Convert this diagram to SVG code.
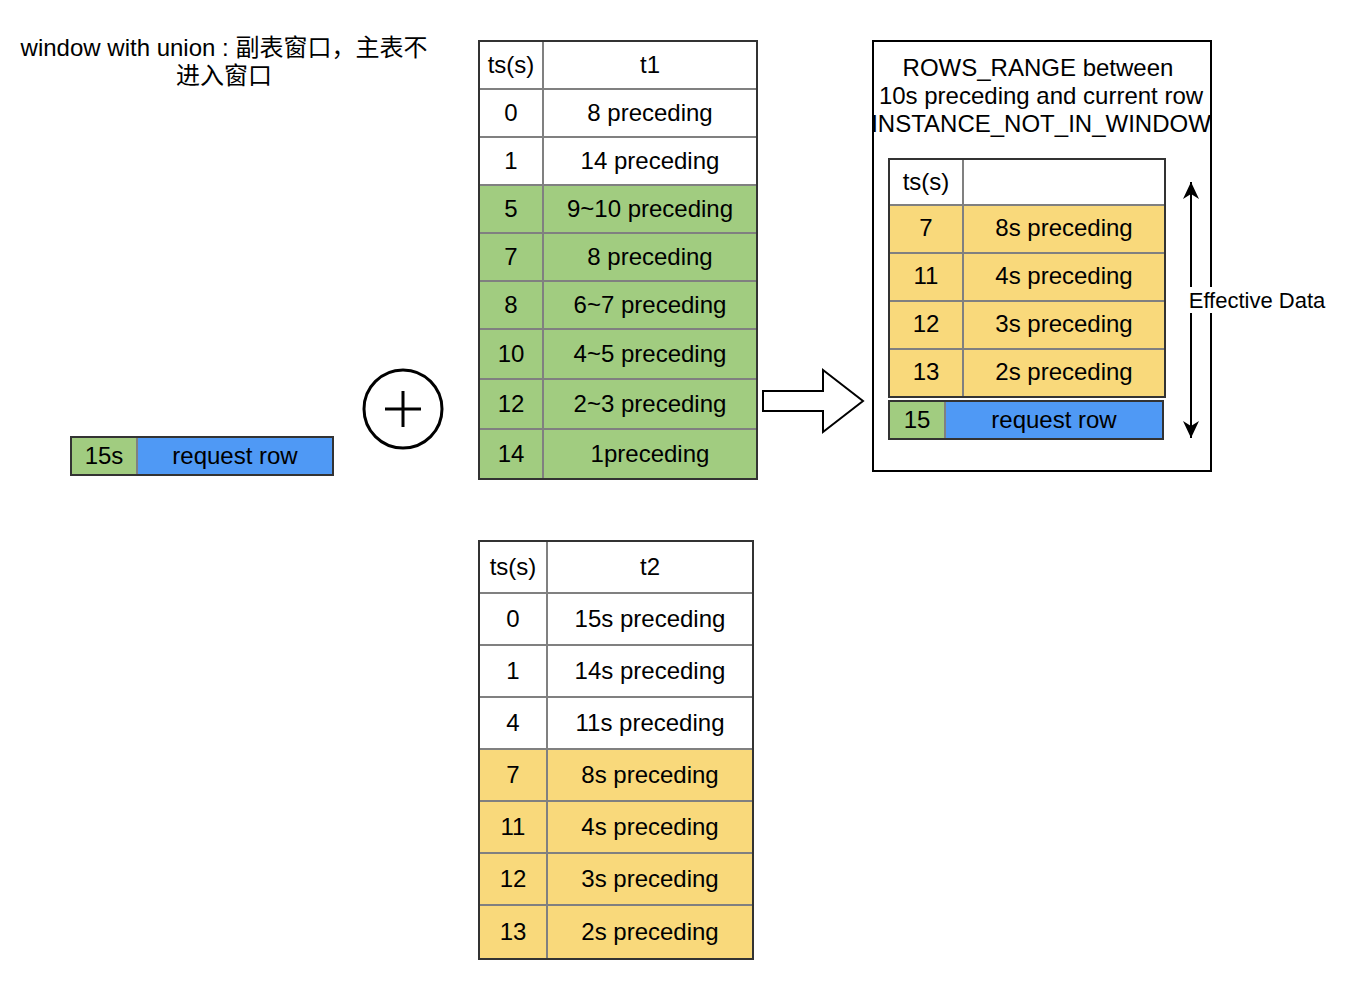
<svg xmlns="http://www.w3.org/2000/svg" width="1346" height="984" viewBox="0 0 1346 984">
<defs>
<style>
text{font-family:"Liberation Sans",Arial,"Noto Sans CJK SC",sans-serif;font-size:24px;fill:#000;text-anchor:middle}
.cjk{font-family:"Liberation Sans","Noto Sans CJK SC",sans-serif}
.g{fill:#A1CC80}
.y{fill:#F9D97B}
.b{fill:#4F99F5}
.w{fill:#fff}
.grid{stroke:#808080;stroke-width:2;fill:none}
.outer{stroke:#333;stroke-width:2;fill:none}
</style>
<marker id="ah" viewBox="0 0 17 16" refX="17" refY="8" markerWidth="17" markerHeight="16" orient="auto" markerUnits="userSpaceOnUse">
<path d="M0,0 L17,8 L0,16 L5,8 Z" fill="#000"/>
</marker>
</defs>
<rect width="1346" height="984" fill="#fff"/>

<g id="title">
<text x="224" y="56" class="cjk">window with union : 副表窗口，主表不</text>
<text x="224" y="84" class="cjk">进入窗口</text>
</g>

<g id="request-left">
<rect x="71" y="437" width="66" height="38" class="g"/>
<rect x="137" y="437" width="196" height="38" class="b"/>
<line x1="137" y1="437" x2="137" y2="475" class="grid"/>
<rect x="71" y="437" width="262" height="38" class="outer"/>
<text x="104" y="464">15s</text>
<text x="235" y="464">request row</text>
</g>

<g id="plus">
<circle cx="403" cy="409" r="39" fill="#fff" stroke="#000" stroke-width="3"/>
<path d="M385,409 H421 M403,391 V427" stroke="#000" stroke-width="3"/>
</g>

<g id="table-t1">
<rect x="479" y="41" width="278" height="144" class="w"/>
<rect x="479" y="185" width="278" height="294" class="g"/>
<path d="M543,41 V479 M479,89 H757 M479,137 H757 M479,185 H757 M479,233 H757 M479,281 H757 M479,329 H757 M479,379 H757 M479,429 H757" class="grid"/>
<rect x="479" y="41" width="278" height="438" class="outer"/>
<text x="511" y="73">ts(s)</text><text x="650" y="73">t1</text>
<text x="511" y="121">0</text><text x="650" y="121">8 preceding</text>
<text x="511" y="169">1</text><text x="650" y="169">14 preceding</text>
<text x="511" y="217">5</text><text x="650" y="217">9~10 preceding</text>
<text x="511" y="265">7</text><text x="650" y="265">8 preceding</text>
<text x="511" y="313">8</text><text x="650" y="313">6~7 preceding</text>
<text x="511" y="362">10</text><text x="650" y="362">4~5 preceding</text>
<text x="511" y="412">12</text><text x="650" y="412">2~3 preceding</text>
<text x="511" y="462">14</text><text x="650" y="462">1preceding</text>
</g>

<g id="table-t2">
<rect x="479" y="541" width="274" height="208" class="w"/>
<rect x="479" y="749" width="274" height="210" class="y"/>
<path d="M547,541 V959 M479,593 H753 M479,645 H753 M479,697 H753 M479,749 H753 M479,801 H753 M479,853 H753 M479,905 H753" class="grid"/>
<rect x="479" y="541" width="274" height="418" class="outer"/>
<text x="513" y="575">ts(s)</text><text x="650" y="575">t2</text>
<text x="513" y="627">0</text><text x="650" y="627">15s preceding</text>
<text x="513" y="679">1</text><text x="650" y="679">14s preceding</text>
<text x="513" y="731">4</text><text x="650" y="731">11s preceding</text>
<text x="513" y="783">7</text><text x="650" y="783">8s preceding</text>
<text x="513" y="835">11</text><text x="650" y="835">4s preceding</text>
<text x="513" y="887">12</text><text x="650" y="887">3s preceding</text>
<text x="513" y="940">13</text><text x="650" y="940">2s preceding</text>
</g>

<g id="result-box">
<rect x="873" y="41" width="338" height="430" fill="#fff" stroke="#000" stroke-width="2"/>
<text x="1038" y="76">ROWS_RANGE between</text>
<text x="1041" y="104">10s preceding and current row</text>
<text x="1041" y="132">INSTANCE_NOT_IN_WINDOW</text>
</g>

<g id="table-result">
<rect x="889" y="159" width="276" height="46" class="w"/>
<rect x="889" y="205" width="276" height="192" class="y"/>
<path d="M963,159 V397 M889,205 H1165 M889,253 H1165 M889,301 H1165 M889,349 H1165" class="grid"/>
<rect x="889" y="159" width="276" height="238" class="outer"/>
<text x="926" y="190">ts(s)</text>
<text x="926" y="236">7</text><text x="1064" y="236">8s preceding</text>
<text x="926" y="284">11</text><text x="1064" y="284">4s preceding</text>
<text x="926" y="332">12</text><text x="1064" y="332">3s preceding</text>
<text x="926" y="380">13</text><text x="1064" y="380">2s preceding</text>
</g>

<g id="request-result">
<rect x="889" y="401" width="56" height="38" class="g"/>
<rect x="945" y="401" width="218" height="38" class="b"/>
<line x1="945" y1="401" x2="945" y2="439" class="grid"/>
<rect x="889" y="401" width="274" height="38" class="outer"/>
<text x="917" y="428">15</text>
<text x="1054" y="428">request row</text>
</g>

<g id="connectors">
<path d="M763,391 H823 V370 L863,401 L823,432 V411 H763 Z" fill="#fff" stroke="#000" stroke-width="2"/>
<line x1="1191" y1="310" x2="1191" y2="182" stroke="#000" stroke-width="2" marker-end="url(#ah)"/>
<line x1="1191" y1="290" x2="1191" y2="438" stroke="#000" stroke-width="2" marker-end="url(#ah)"/>
</g>

<g id="effective-label">
<rect x="1186" y="287" width="142" height="26" fill="#fff"/>
<text x="1257" y="308" style="font-size:22px">Effective Data</text>
</g>
</svg>
